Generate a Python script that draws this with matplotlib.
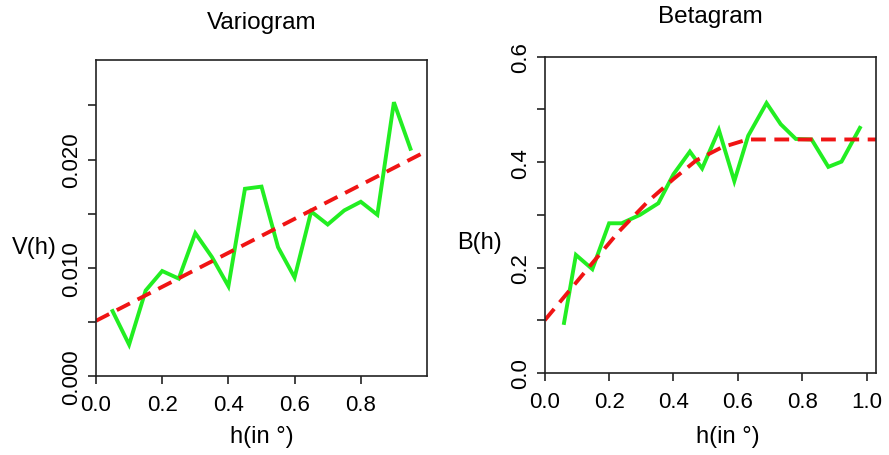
import matplotlib
matplotlib.use("Agg")
import matplotlib.pyplot as plt

plt.rcParams["font.family"] = ["Liberation Sans", "DejaVu Sans"]

# empirical variogram (left)
var_h = [0.05, 0.10, 0.15, 0.20, 0.25, 0.30, 0.35, 0.40, 0.45, 0.50,
         0.55, 0.60, 0.65, 0.70, 0.75, 0.80, 0.85, 0.90, 0.95]
var_v = [0.0060, 0.0029, 0.0079, 0.0097, 0.0090, 0.0132, 0.0110, 0.0083, 0.0173, 0.0175,
         0.0119, 0.0091, 0.0152, 0.0140, 0.0153, 0.0161, 0.0149, 0.0253, 0.0210]
var_fit_h = [0.0, 1.0]
var_fit_v = [0.0051, 0.0208]

# empirical betagram (right)
beta_h = [0.060, 0.097, 0.148, 0.200, 0.239, 0.296, 0.353, 0.400, 0.451, 0.489,
          0.541, 0.589, 0.632, 0.689, 0.733, 0.780, 0.829, 0.881, 0.922, 0.979]
beta_b = [0.095, 0.224, 0.197, 0.284, 0.284, 0.300, 0.322, 0.377, 0.420, 0.388,
          0.461, 0.364, 0.450, 0.512, 0.472, 0.444, 0.443, 0.391, 0.401, 0.465]
beta_fit_h = [0.0, 0.06, 0.15, 0.23, 0.32, 0.40, 0.47, 0.55, 0.63, 1.03]
beta_fit_b = [0.100, 0.144, 0.210, 0.268, 0.325, 0.368, 0.403, 0.428, 0.443, 0.443]

GREEN = "#22ee22"
RED = "#f01414"
TICK_FS = 16
LAB_FS = 17
TITLE_FS = 17.5

fig = plt.figure(figsize=(8.89, 4.56), dpi=100)
ax1 = fig.add_axes([96 / 889, 79 / 456, 331 / 889, 316 / 456])
ax2 = fig.add_axes([544.7 / 889, 82 / 456, 331.6 / 889, 316.3 / 456])

dash = (0, (3.8, 2.2))

ax1.plot(var_h, var_v, color=GREEN, lw=2.8, solid_joinstyle="miter")
ax1.plot(var_fit_h, var_fit_v, color=RED, lw=2.8, linestyle=dash)
ax1.set_xlim(0, 1.0)
ax1.set_ylim(0, 0.0292)
ax1.set_xticks([0.0, 0.2, 0.4, 0.6, 0.8])
ax1.set_xticklabels(["0.0", "0.2", "0.4", "0.6", "0.8"])
ax1.set_yticks([0.0, 0.010, 0.020])
ax1.set_yticklabels(["0.000", "0.010", "0.020"], rotation=90, va="center")
ax1.set_yticks([0.005, 0.015, 0.025], minor=True)
ax1.set_title("Variogram", fontsize=TITLE_FS, pad=23)
ax1.set_ylabel("V(h)", fontsize=LAB_FS, rotation=0, ha="center", va="center")
ax1.yaxis.set_label_coords(-0.187, 0.408)
ax1.set_xlabel("h(in °)", fontsize=LAB_FS, va="center")
ax1.xaxis.set_label_coords(0.5, -0.19)

ax2.plot(beta_h, beta_b, color=GREEN, lw=2.8, solid_joinstyle="miter")
ax2.plot(beta_fit_h, beta_fit_b, color=RED, lw=2.8, linestyle=dash)
ax2.set_xlim(0, 1.03)
ax2.set_ylim(0, 0.6)
ax2.set_xticks([0.0, 0.2, 0.4, 0.6, 0.8, 1.0])
ax2.set_xticklabels(["0.0", "0.2", "0.4", "0.6", "0.8", "1.0"])
ax2.set_yticks([0.0, 0.2, 0.4, 0.6])
ax2.set_yticklabels(["0.0", "0.2", "0.4", "0.6"], rotation=90, va="center")
ax2.set_yticks([0.1, 0.3, 0.5], minor=True)
ax2.set_title("Betagram", fontsize=TITLE_FS, pad=25)
ax2.set_ylabel("B(h)", fontsize=LAB_FS, rotation=0, ha="center", va="center")
ax2.yaxis.set_label_coords(-0.198, 0.414)
ax2.set_xlabel("h(in °)", fontsize=LAB_FS, va="center")
ax2.xaxis.set_label_coords(0.553, -0.2)

for ax in (ax1, ax2):
    for sp in ax.spines.values():
        sp.set_linewidth(1.2)
        sp.set_color("#222222")
    ax.tick_params(which="both", direction="out", length=6, width=1.2,
                   color="#222222", labelsize=TICK_FS)
    ax.tick_params(axis="x", pad=7)
    ax.tick_params(axis="y", pad=4)

fig.savefig("out.png", dpi=100)
